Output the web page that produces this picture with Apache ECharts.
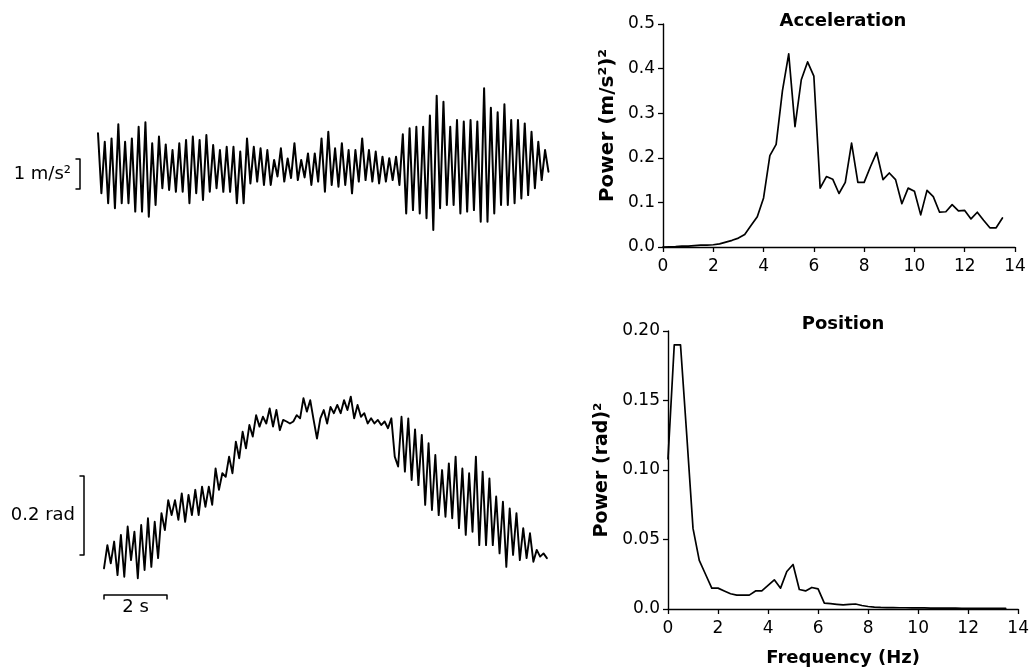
<!DOCTYPE html>
<html><head><meta charset="utf-8">
<script src="https://cdn.jsdelivr.net/npm/echarts@6/dist/echarts.min.js"></script>
<style>html,body{margin:0;padding:0;background:#fff}#c{width:1032px;height:670px}</style>
</head><body><div id="c"></div>
<script>
// ---------- DATA ----------
// Acceleration trace (m/s^2), successive extremes
const accTrace = [1.19,-0.81,0.91,-1.14,1.02,-1.31,1.49,-1.14,0.91,-1.14,1.02,-1.42,1.41,-1.42,1.56,-1.59,0.86,-1.20,1.08,-0.64,0.82,-0.70,0.63,-0.76,0.86,-0.76,0.97,-1.14,1.08,-0.81,0.97,-1.03,1.13,-0.76,0.80,-0.64,0.63,-0.76,0.74,-0.76,0.74,-1.14,0.58,
 -1.14,1.02,-0.48,0.74,-0.42,0.69,-0.53,0.63,-0.53,0.30,-0.25,0.69,-0.42,0.35,-0.30,0.86,-0.37,0.30,-0.28,0.52,-0.53,0.52,-0.42,1.02,-0.76,1.24,-0.53,0.69,-0.59,0.86,-0.53,0.63,-0.81,0.63,-0.42,1.02,-0.37,0.63,-0.42,0.58,-0.48,0.41,-0.42,0.36,-0.37,0.41,-0.53,1.16,
 -1.48,1.36,-1.37,1.41,-1.48,1.41,-1.64,1.78,-2.03,2.44,-1.31,2.24,-1.20,1.41,-1.20,1.63,-1.48,1.58,-1.42,1.63,-1.37,1.58,-1.76,2.69,-1.76,2.04,-1.48,1.89,-1.20,2.16,-1.20,1.63,-1.14,1.63,-0.98,1.52,-0.87,1.24,-0.64,0.91,-0.37,0.63,-0.09];
const ACC_DURATION = 14.3; // s

// Position trace (rad), successive extremes
const posTrace = [-0.034,0.025,-0.021,0.034,-0.051,0.051,-0.055,0.072,-0.013,0.059,-0.059,0.076,-0.038,0.093,-0.030,0.084,-0.008,0.106,0.063,0.139,0.101,0.139,0.089,0.156,0.084,0.152,0.101,0.165,0.101,0.173,0.122,0.173,0.127,0.219,0.165,0.207,0.198,0.249,0.207,0.287,0.245,0.312,
 0.270,0.329,0.300,0.354,0.325,0.350,0.333,0.371,0.325,0.367,0.316,0.342,0.338,0.333,0.338,0.354,0.346,0.397,0.363,0.392,0.342,0.295,0.346,0.367,0.333,0.375,0.359,0.380,0.359,0.392,0.367,0.401,0.346,0.380,0.350,0.359,0.333,0.346,0.333,0.342,0.329,0.338,0.321,0.346,0.249,
 0.224,0.350,0.211,0.346,0.190,0.318,0.177,0.304,0.127,0.283,0.114,0.253,0.101,0.215,0.097,0.232,0.093,0.249,0.068,0.219,0.051,0.207,0.059,0.249,0.025,0.211,0.025,0.194,0.025,0.148,0.004,0.135,-0.030,0.118,0.000,0.106,-0.013,0.068,-0.008,0.055,-0.017,0.013,-0.004,0.004,-0.008];
const POS_DURATION = 14.06; // s

// Scale bars
const ACC_SCALE = 1;     // m/s^2
const POS_SCALE = 0.2;   // rad
const TIME_SCALE = 2;    // s

// Power spectra
const freqHz = [0,0.25,0.5,0.75,1,1.25,1.5,1.75,2,2.25,2.5,2.75,3,3.25,3.5,3.75,4,4.25,4.5,4.75,5,5.25,5.5,5.75,6,6.25,6.5,6.75,7,7.25,7.5,7.75,8,8.25,8.5,8.75,9,9.25,9.5,9.75,10,10.25,10.5,10.75,11,11.25,11.5,11.75,12,12.25,12.5,12.75,13,13.25,13.5];
const accPower = [0,0.0005,0.001,0.002,0.002,0.003,0.004,0.004,0.005,0.007,0.011,0.015,0.02,0.028,0.048,0.068,0.11,0.205,0.23,0.35,0.433,0.27,0.375,0.415,0.383,0.132,0.158,0.152,0.12,0.145,0.233,0.145,0.145,0.18,0.212,0.151,0.166,0.151,0.097,0.132,0.125,0.072,0.127,0.113,0.078,0.079,0.095,0.081,0.082,0.063,0.078,0.06,0.043,0.043,0.065];
const posPower = [0.108,0.19,0.19,0.125,0.058,0.035,0.025,0.015,0.015,0.013,0.011,0.010,0.010,0.010,0.013,0.013,0.017,0.021,0.015,0.027,0.032,0.014,0.013,0.0155,0.0145,0.0042,0.0038,0.0033,0.0029,0.0033,0.0036,0.0025,0.0018,0.0013,0.0011,0.0010,0.0010,0.0009,0.0009,0.0008,0.0008,0.0008,0.0007,0.0007,0.0006,0.0006,0.0006,0.0005,0.0005,0.0005,0.0005,0.0004,0.0004,0.0004,0.0004];

// ---------- LAYOUT ----------
const FONT = 'DejaVu Sans';
const PX_PER_S = 31.5;
const G_ACC = {left:40, top:60, width:520, height:200};
const ACC_T0_PX = 98, ACC_ZERO_PX = 169, ACC_PX_PER_UNIT = 30;
const ACC_BAR_X_PX = 80, ACC_BAR_MID_PX = 174;
const G_POS = {left:40, top:380, width:520, height:240};
const POS_T0_PX = 104, POS_ZERO_PX = 555, POS_PX_PER_UNIT = 395;
const POS_BAR_X_PX = 84, TIME_BAR_Y_PX = 595;
const STUB_PX = 4;
const G_SA = {left:663, top:24, width:352, height:223};
const G_SP = {left:668, top:331, width:355, height:278};

function xRange(g, t0px){ const min=(g.left-t0px)/PX_PER_S; return [min, min+g.width/PX_PER_S]; }
function yRange(g, zeroPx, k){ return [(zeroPx-(g.top+g.height))/k, (zeroPx-g.top)/k]; }
const pxToT = (px,t0px)=> (px-t0px)/PX_PER_S;
const pxToV = (px,zeroPx,k)=> (zeroPx-px)/k;

const accX = xRange(G_ACC, ACC_T0_PX), accY = yRange(G_ACC, ACC_ZERO_PX, ACC_PX_PER_UNIT);
const posX = xRange(G_POS, POS_T0_PX), posY = yRange(G_POS, POS_ZERO_PX, POS_PX_PER_UNIT);

const accData = accTrace.map((v,i)=>[i*ACC_DURATION/(accTrace.length-1), v]);
const posData = posTrace.map((v,i)=>[i*POS_DURATION/(posTrace.length-1), v]);
const accSpec = freqHz.map((f,i)=>[f, accPower[i]]);
const posSpec = freqHz.map((f,i)=>[f, posPower[i]]);

const aBx = pxToT(ACC_BAR_X_PX, ACC_T0_PX), aStub = STUB_PX/PX_PER_S;
const aMid = pxToV(ACC_BAR_MID_PX, ACC_ZERO_PX, ACC_PX_PER_UNIT);
const accBar = [[aBx-aStub, aMid+ACC_SCALE/2],[aBx, aMid+ACC_SCALE/2],[aBx, aMid-ACC_SCALE/2],[aBx-aStub, aMid-ACC_SCALE/2]];
const pBx = pxToT(POS_BAR_X_PX, POS_T0_PX);
const posBar = [[pBx-aStub, POS_SCALE],[pBx, POS_SCALE],[pBx, 0],[pBx-aStub, 0]];
const tY = pxToV(TIME_BAR_Y_PX, POS_ZERO_PX, POS_PX_PER_UNIT), tTick = 4/POS_PX_PER_UNIT;
const timeBar = [[0, tY-tTick],[0, tY],[TIME_SCALE, tY],[TIME_SCALE, tY-tTick]];

const black = '#000';
const lineS = (xi, data, w) => ({type:'line', xAxisIndex:xi, yAxisIndex:xi, data, showSymbol:false, symbol:'none', silent:true, animation:false, lineStyle:{color:black, width:w, join:'round', cap:'round'}});

const hiddenAxis = (g, r) => ({gridIndex:g, type:'value', min:r[0], max:r[1], show:false});
const specX = (g, name) => ({gridIndex:g, type:'value', min:0, max:14, interval:2,
  name:name, nameLocation:'middle', nameGap:40, nameTextStyle:{fontFamily:FONT, fontSize:18, fontWeight:'bold', color:black},
  axisLine:{show:true, lineStyle:{color:black, width:1.4}}, axisTick:{show:true, length:5, lineStyle:{color:black, width:1.3}},
  axisLabel:{color:black, fontFamily:FONT, fontSize:17, margin:11}, splitLine:{show:false}});
const specY = (g, max, interval, name, gap, fs, fmt, pad) => ({gridIndex:g, type:'value', min:0, max, interval,
  name:name, nameLocation:'middle', nameRotate:90, nameGap:gap, nameTextStyle:{fontFamily:FONT, fontSize:fs, fontWeight:'bold', color:black, padding:pad},
  axisLine:{show:true, lineStyle:{color:black, width:1.4}}, axisTick:{show:true, length:5, lineStyle:{color:black, width:1.3}},
  axisLabel:{color:black, fontFamily:FONT, fontSize:17, margin:8, formatter:fmt}, splitLine:{show:false}});

const chart = echarts.init(document.getElementById('c'), null, {renderer:'canvas'});
chart.setOption({
  backgroundColor:'#fff',
  animation:false,
  grid:[G_ACC, G_POS, G_SA, G_SP].map(g=>Object.assign({containLabel:false}, g)),
  xAxis:[hiddenAxis(0, accX), hiddenAxis(1, posX), specX(2, ''), specX(3, 'Frequency (Hz)')],
  yAxis:[hiddenAxis(0, accY), hiddenAxis(1, posY),
    specY(2, 0.5, 0.1, 'Power (m/s²)²', 45, 20, v=>v.toFixed(1), [0,0,0,20]),
    specY(3, 0.2, 0.05, 'Power (rad)²', 56, 19, v=> v===0 ? '0.0' : v.toFixed(2), [0,0,0,0])],
  series:[
    lineS(0, accData, 2.0),
    lineS(0, accBar, 1.5),
    lineS(1, posData, 1.9),
    lineS(1, posBar, 1.5),
    lineS(1, timeBar, 1.5),
    lineS(2, accSpec, 1.7),
    lineS(3, posSpec, 1.7)
  ]
});

// text labels positioned from the scale bars through the axes
const pA = chart.convertToPixel({xAxisIndex:0, yAxisIndex:0}, [aBx, aMid]);
const pP = chart.convertToPixel({xAxisIndex:1, yAxisIndex:1}, [pBx, POS_SCALE/2]);
const pT = chart.convertToPixel({xAxisIndex:1, yAxisIndex:1}, [TIME_SCALE/2, tY]);
const txt = (x, y, text, align, vAlign, font) => ({type:'text', x, y, silent:true,
  style:{text, fill:black, font, textAlign:align, textVerticalAlign:vAlign}});
chart.setOption({graphic:[
  txt(843, 21, 'Acceleration', 'center', 'middle', 'bold 18px "DejaVu Sans"'),
  txt(843, 324, 'Position', 'center', 'middle', 'bold 18px "DejaVu Sans"'),
  txt(pA[0]-9, pA[1], '1 m/s²', 'right', 'middle', '18px "DejaVu Sans"'),
  txt(pP[0]-9, pP[1], '0.2 rad', 'right', 'middle', '18px "DejaVu Sans"'),
  txt(pT[0], pT[1]+3, '2 s', 'center', 'top', '18px "DejaVu Sans"')
]});
</script></body></html>
